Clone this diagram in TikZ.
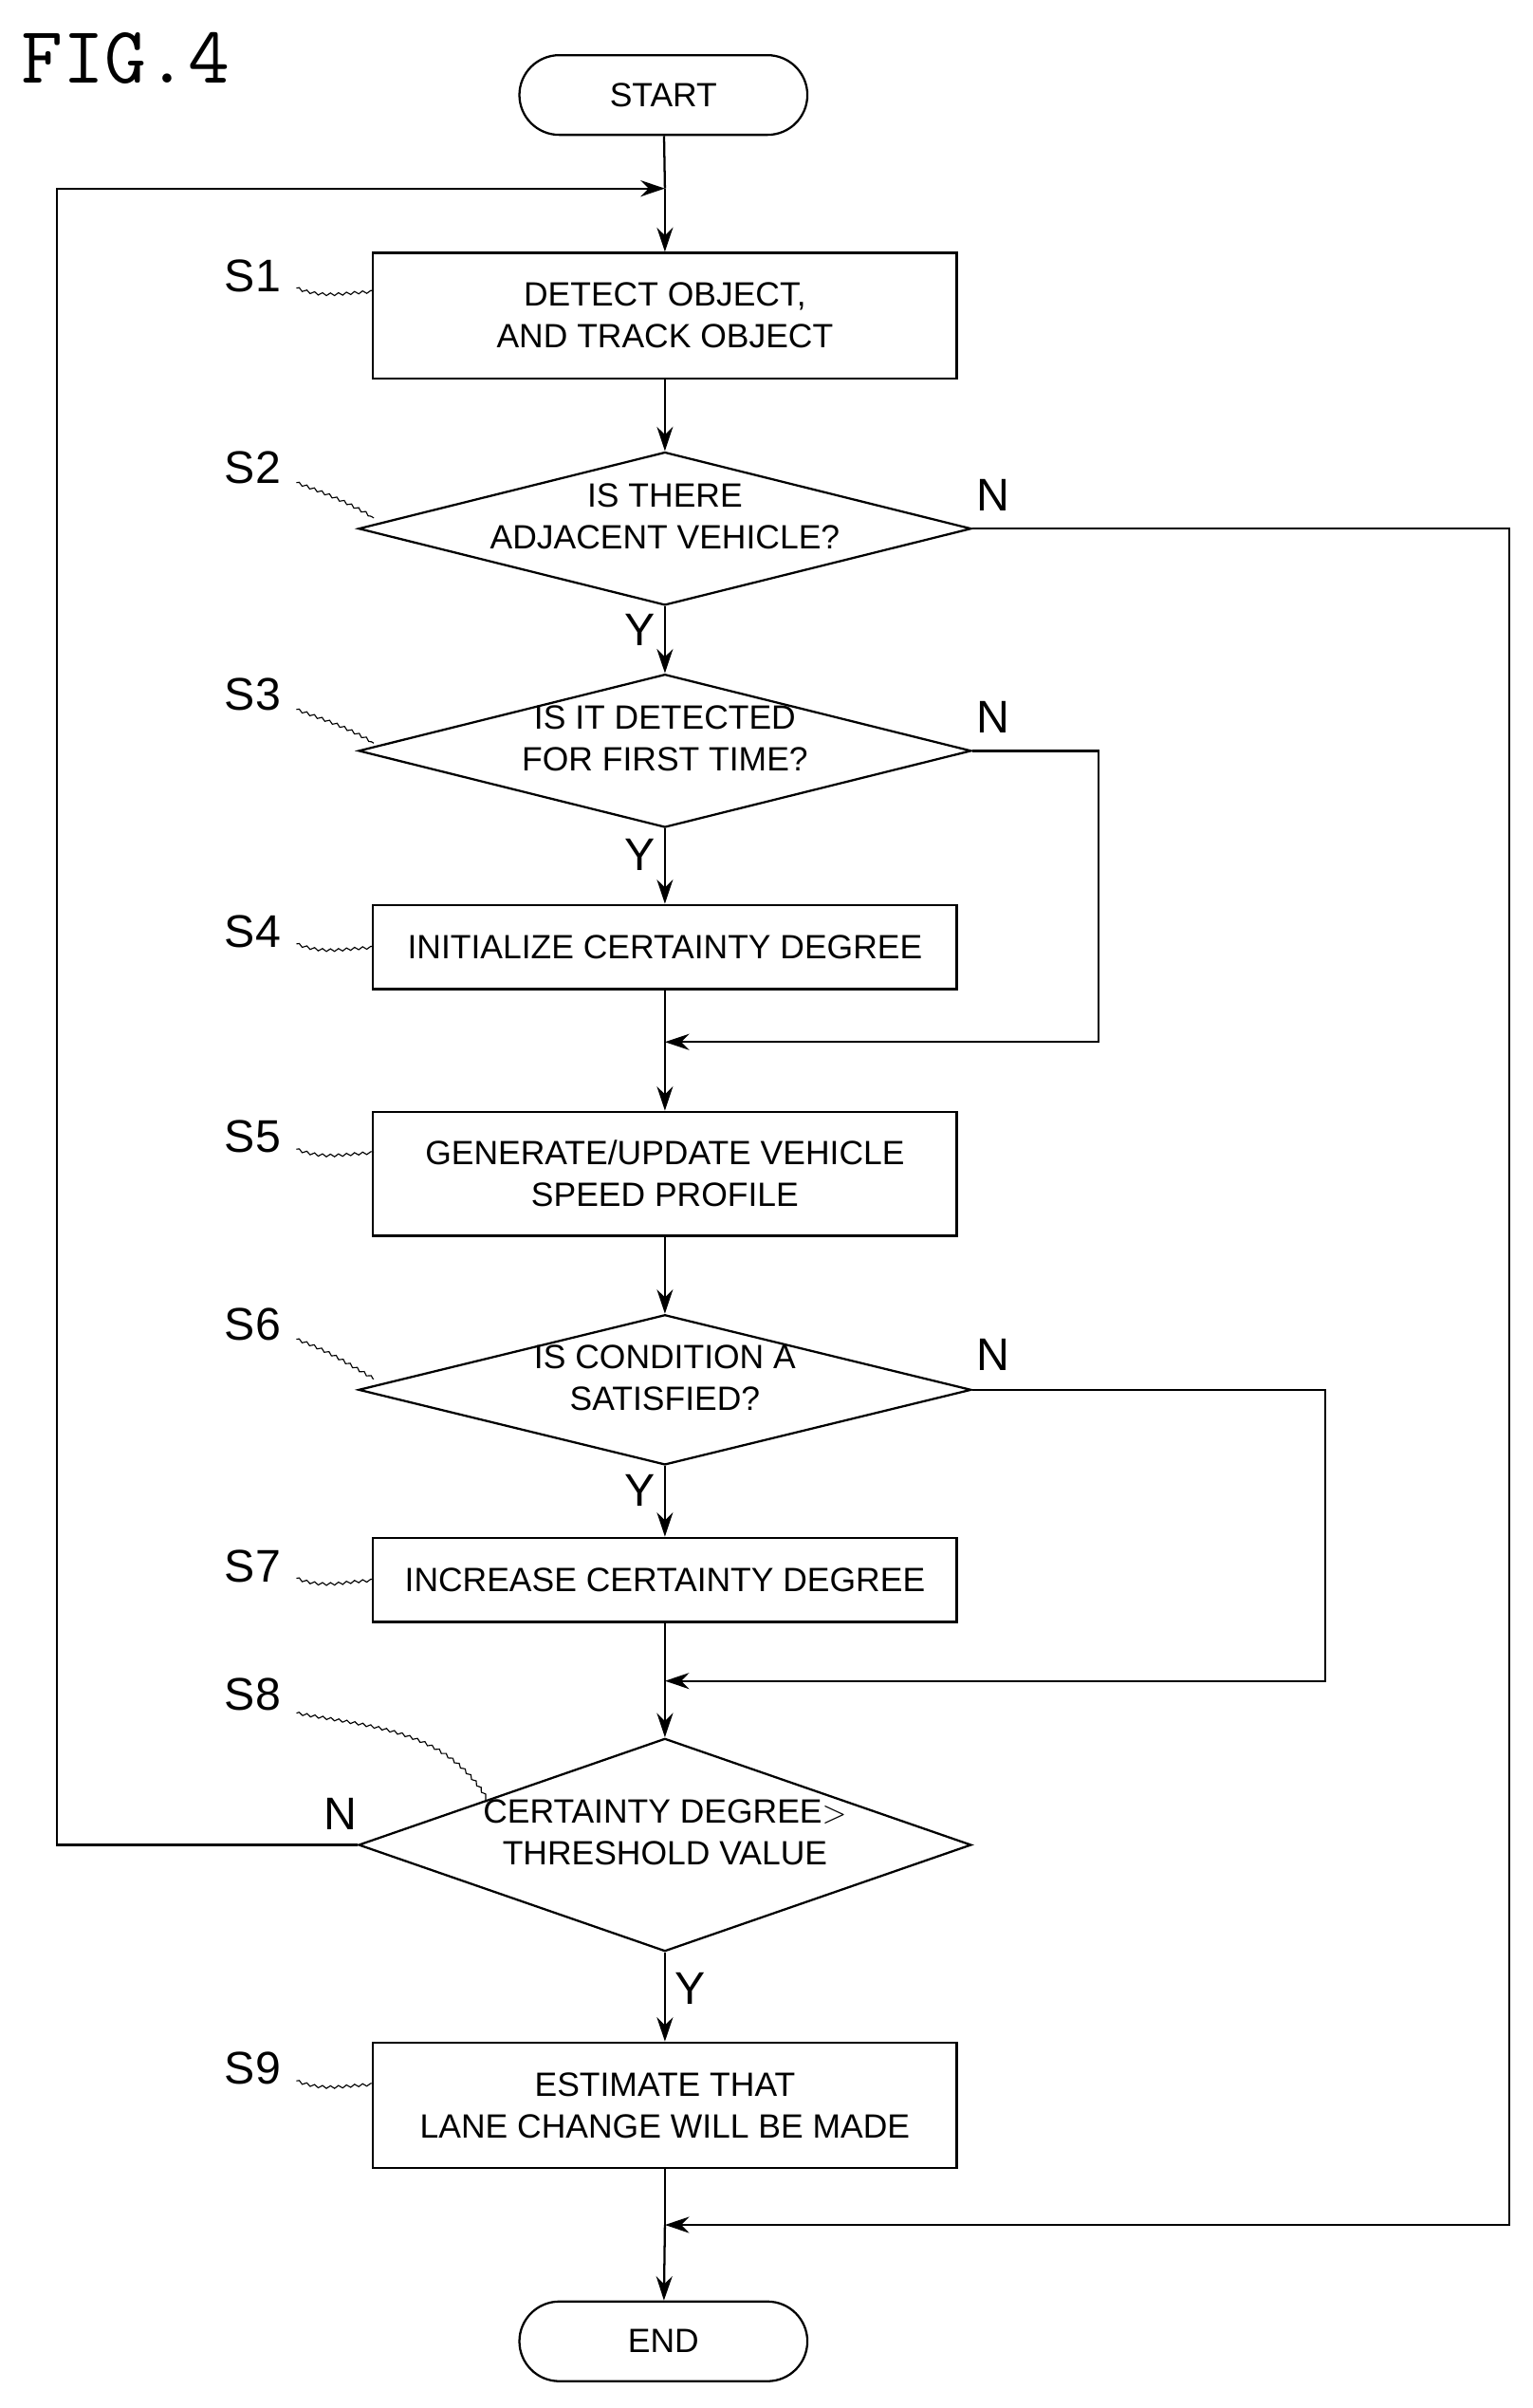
\documentclass[tikz,border=0pt]{standalone}
\usepackage{fontspec}
\setmainfont{Liberation Sans}
\usetikzlibrary{shapes.geometric, arrows, arrows.meta, positioning, decorations.pathmorphing}

\begin{document}
\begin{tikzpicture}[
    x=0.02cm, y=-0.02cm,
    font=\fontsize{12.5}{15.5}\selectfont,
    process/.style={rectangle, draw, thick, minimum width=7.62cm, align=center},
    decision/.style={diamond, draw, thick, inner sep=0pt},
    terminal/.style={rectangle, rounded corners=0.52cm, draw, thick, minimum width=3.76cm, minimum height=1.04cm},
    txt/.style={align=center, yshift=0.16cm},
    arrow/.style={-{Stealth[length=9pt,width=6pt]}, thick},
    line/.style={thick},
    lead/.style={decorate, decoration={snake, amplitude=0.5pt, segment length=3pt}}
]
\useasboundingbox (0,0) rectangle (1000,1571.5);

\node[font=\ttfamily\fontsize{30}{30}\selectfont] (fig) at (82,38) {FIG.4};

% Terminals
\node[terminal] (start) at (433,62) {START};
\node[terminal] (end) at (433,1528) {END};

% Steps
\node[process, minimum height=1.64cm] (s1) at (434,206) {DETECT OBJECT,\\AND TRACK OBJECT};
\node[decision, minimum width=8cm, minimum height=2cm] (s2) at (434,345) {};
\node[txt] at (s2) {IS THERE\\ADJACENT VEHICLE?};
\node[decision, minimum width=8cm, minimum height=2cm] (s3) at (434,490) {};
\node[txt] at (s3) {IS IT DETECTED\\FOR FIRST TIME?};
\node[process, minimum height=1.1cm] (s4) at (434,618) {INITIALIZE CERTAINTY DEGREE};
\node[process, minimum height=1.62cm] (s5) at (434,766) {GENERATE/UPDATE VEHICLE\\SPEED PROFILE};
\node[decision, minimum width=8cm, minimum height=1.96cm] (s6) at (434,907) {};
\node[txt] at (s6) {IS CONDITION A\\SATISFIED?};
\node[process, minimum height=1.1cm] (s7) at (434,1031) {INCREASE CERTAINTY DEGREE};
\node[decision, minimum width=8cm, minimum height=2.78cm] (s8) at (434,1204) {};
\node[txt] at (s8) {CERTAINTY DEGREE$>$\\THRESHOLD VALUE};
\node[process, minimum height=1.64cm] (s9) at (434,1374) {ESTIMATE THAT\\LANE CHANGE WILL BE MADE};

% Junctions
\coordinate (loop) at (434,123);
\coordinate (m4) at (434,680);
\coordinate (m7) at (434,1097);
\coordinate (m9) at (434,1452);

% Step labels
\foreach \n/\y/\ly in {1/180/190, 4/608/618, 5/742/752, 7/1022/1031, 9/1350/1360} {
  \node (l\n) at (165,\y) {\fontsize{17}{17}\selectfont S\n};
  \draw[lead] (l\n.east) ++(4,8) to[out=-20,in=180] (244,\ly);
}
\node (l2) at (165,305) {\fontsize{17}{17}\selectfont S2};
\draw[lead] (l2.east) ++(4,10) to[out=-20,in=150] (244,338);
\node (l3) at (165,453) {\fontsize{17}{17}\selectfont S3};
\draw[lead] (l3.east) ++(4,10) to[out=-20,in=150] (244,485);
\node (l6) at (165,864) {\fontsize{17}{17}\selectfont S6};
\draw[lead] (l6.east) ++(4,10) to[out=-20,in=150] (244,900);
\node (l8) at (165,1106) {\fontsize{17}{17}\selectfont S8};
\draw[lead] (l8.east) ++(4,12) to[out=-10,in=120] (318,1176);

% Main flow
\draw[line] (start) -- (loop);
\draw[arrow] (loop) -- (s1);
\draw[arrow] (s1) -- (s2);
\draw[arrow] (s2) -- node[pos=0.35, left] {\fontsize{17}{17}\selectfont Y} (s3);
\draw[arrow] (s3) -- node[pos=0.35, left] {\fontsize{17}{17}\selectfont Y} (s4);
\draw[line] (s4) -- (m4);
\draw[arrow] (m4) -- (s5);
\draw[arrow] (s5) -- (s6);
\draw[arrow] (s6) -- node[pos=0.35, left] {\fontsize{17}{17}\selectfont Y} (s7);
\draw[line] (s7) -- (m7);
\draw[arrow] (m7) -- (s8);
\draw[arrow] (s8) -- node[pos=0.4, right] {\fontsize{17}{17}\selectfont Y} (s9);
\draw[line] (s9) -- (m9);
\draw[arrow] (m9) -- (end);

% Branches
\draw[arrow] (s2.east) -- (985,345) -- (985,1452) -- (m9);
\node at (648,323) {\fontsize{17}{17}\selectfont N};
\draw[arrow] (s3.east) -- (717,490) -- (717,680) -- (m4);
\node at (648,468) {\fontsize{17}{17}\selectfont N};
\draw[arrow] (s6.east) -- (865,907) -- (865,1097) -- (m7);
\node at (648,884) {\fontsize{17}{17}\selectfont N};
\draw[arrow] (s8.west) -- (37,1204) -- (37,123) -- (loop);
\node at (222,1184) {\fontsize{17}{17}\selectfont N};

\end{tikzpicture}
\end{document}
